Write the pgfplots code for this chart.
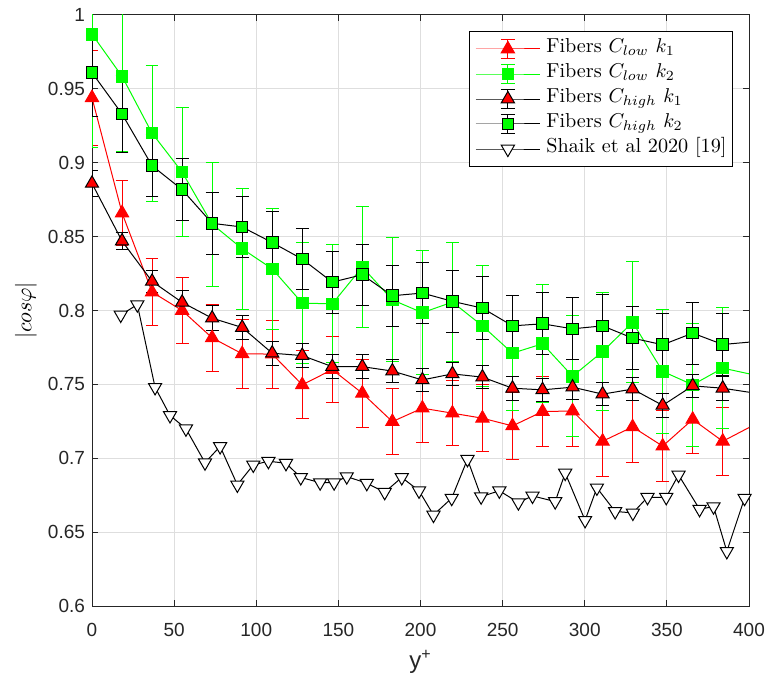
\documentclass[border=0pt]{standalone}
\usepackage{pgfplots}
\pgfplotsset{compat=1.18}
\usepackage{pgfplotstable}
\usepackage{fontspec}
\newfontfamily\arialfont{Liberation Sans}
\definecolor{axisgray}{rgb}{0.15,0.15,0.15}
\definecolor{gridgray}{rgb}{0.87,0.87,0.87}
\definecolor{mgreen}{rgb}{0,1,0}

\pgfplotstableread{
x y e
0 0.944 0.032
18.29 0.866 0.022
36.57 0.8125 0.0225
54.86 0.800 0.022
73.14 0.7815 0.0225
91.43 0.7707 0.0235
109.71 0.7705 0.023
128 0.7497 0.023
146.29 0.760 0.0223
164.57 0.744 0.023
182.86 0.7248 0.0223
201.14 0.7339 0.023
219.43 0.7305 0.022
237.71 0.7271 0.0226
256 0.7219 0.0226
274.29 0.7316 0.0237
292.57 0.732 0.024
310.86 0.7115 0.024
329.14 0.7212 0.024
347.43 0.7082 0.024
365.71 0.7263 0.023
384 0.7115 0.023
}\redlow

\pgfplotstableread{
x y e
0 0.987 0.077
18.29 0.9585 0.051
36.57 0.920 0.046
54.86 0.8937 0.0435
73.14 0.8585 0.042
91.43 0.8418 0.041
109.71 0.8282 0.041
128 0.805 0.041
146.29 0.8045 0.040
164.57 0.8294 0.041
182.86 0.8072 0.042
201.14 0.7985 0.042
219.43 0.8057 0.040
237.71 0.7896 0.041
256 0.7711 0.039
274.29 0.7775 0.040
292.57 0.7555 0.041
310.86 0.7722 0.040
329.14 0.792 0.041
347.43 0.7588 0.042
365.71 0.7497 0.0415
384 0.761 0.041
}\greenlow

\pgfplotstableread{
x y e
0 0.886 0.009
18.29 0.847 0.006
36.57 0.8197 0.0075
54.86 0.8055 0.008
73.14 0.7948 0.0085
91.43 0.7885 0.008
109.71 0.7711 0.008
128 0.7695 0.008
146.29 0.762 0.008
164.57 0.762 0.008
182.86 0.759 0.008
201.14 0.753 0.008
219.43 0.7571 0.008
237.71 0.7549 0.008
256 0.7474 0.008
274.29 0.7463 0.008
292.57 0.7481 0.008
310.86 0.7434 0.008
329.14 0.7468 0.008
347.43 0.7358 0.008
365.71 0.749 0.008
384 0.7474 0.008
}\redhigh

\pgfplotstableread{
x y e
0 0.961 0.0295
18.29 0.933 0.026
36.57 0.898 0.021
54.86 0.8818 0.021
73.14 0.859 0.021
91.43 0.8565 0.0205
109.71 0.846 0.021
128 0.8348 0.0207
146.29 0.8192 0.021
164.57 0.8242 0.0205
182.86 0.810 0.0205
201.14 0.8118 0.0207
219.43 0.8062 0.021
237.71 0.8016 0.0215
256 0.7896 0.0206
274.29 0.791 0.021
292.57 0.7876 0.021
310.86 0.7896 0.021
329.14 0.7813 0.0215
347.43 0.7768 0.021
365.71 0.7847 0.021
384 0.777 0.021
}\greenhigh

\pgfplotstableread{
x y
17.5 0.797
27.6 0.804
38.4 0.748
47.5 0.729
57.2 0.720
68.8 0.697
78 0.708
88.5 0.682
98.2 0.6955
107.4 0.698
118.1 0.6966
127.1 0.687
138.9 0.6835
147.4 0.6835
155.1 0.6876
167.3 0.6831
178.2 0.677
188.6 0.687
199.1 0.678
207.9 0.6616
219 0.673
228.6 0.6993
236.9 0.674
248 0.678
259.6 0.670
268.2 0.6745
282 0.6707
288.1 0.690
300.2 0.658
307.4 0.680
318.5 0.664
329.3 0.663
338.2 0.6736
349.6 0.6736
357.1 0.6887
369.9 0.6655
378.4 0.6673
386.5 0.637
397.3 0.673
}\shaik

\pgfplotsset{
  errleg/.style={legend image code/.code={
    \draw[#1, line width=0.5pt, solid] (16pt,-4.7pt) -- (16pt,4.7pt) (12.5pt,-4.7pt) -- (19.5pt,-4.7pt) (12.5pt,4.7pt) -- (19.5pt,4.7pt);
    \draw[mark repeat=2,mark phase=2,##1] plot coordinates {(0pt,0pt) (16pt,0pt) (32pt,0pt)};
  }},
  plainleg/.style={legend image code/.code={
    \draw[mark repeat=2,mark phase=2,##1] plot coordinates {(0pt,0pt) (16pt,0pt) (32pt,0pt)};
  }},
}

\begin{document}
\begin{tikzpicture}
\begin{axis}[
  scale only axis,
  width=328.5pt, height=295.5pt,
  xmin=0, xmax=400, ymin=0.6, ymax=1,
  xtick={0,50,100,150,200,250,300,350,400},
  ytick={0.6,0.65,0.7,0.75,0.8,0.85,0.9,0.95,1},
  yticklabels={0.6,0.65,0.7,0.75,0.8,0.85,0.9,0.95,1},
  grid=major,
  major grid style={color=gridgray, line width=0.5pt},
  tick align=inside,
  xtick pos=both, ytick pos=both,
  major tick length=3pt,
  axis line style={axisgray, line width=0.5pt},
  tick style={axisgray, line width=0.5pt},
  ticklabel style={font=\arialfont\fontsize{9.5}{11}\selectfont, text=axisgray},
  /pgf/number format/assume math mode=true,
  xticklabel style={yshift=-5pt},
  xlabel={\arialfont\fontsize{12}{14}\selectfont y\textsuperscript{+}},
  xlabel style={at={(axis description cs:0.5,-0.0948)}, anchor=center, text=axisgray},
  ylabel={$|cos\varphi|$},
  ylabel style={at={(axis description cs:-0.1005,0.5)}, anchor=center, font=\fontsize{11}{13}\selectfont},
  legend cell align=left,
  legend style={at={(axis description cs:1,1)}, anchor=north east, xshift=-8pt, yshift=-8pt,
    draw=black, line width=0.5pt, fill=white, inner xsep=3pt, inner ysep=2.5pt,
    font=\fontsize{10.1}{12}\selectfont,
    nodes={inner sep=0pt, text height=8pt, text depth=4.5pt},
    /tikz/every odd column/.append style={column sep=3pt}},
  clip=true,
]
% C_low k1
\addplot[red, line width=0.5pt, mark=triangle*, mark size=3.8pt,
  mark options={fill=red, draw=red, solid}, errleg={red},
  error bars/.cd, y dir=both, y explicit,
  error bar style={red, line width=0.5pt},
  error mark options={red, rotate=90, mark size=3.2pt, line width=0.5pt}]
  table[x=x, y=y, y error=e] {\redlow};
\addlegendentry{Fibers $C_{low}$ $k_1$}
% C_low k2
\addplot[mgreen, line width=0.5pt, mark=square*, mark size=2.9pt,
  mark options={fill=mgreen, draw=mgreen, solid}, errleg={mgreen},
  error bars/.cd, y dir=both, y explicit,
  error bar style={mgreen, line width=0.5pt},
  error mark options={mgreen, rotate=90, mark size=3.2pt, line width=0.5pt}]
  table[x=x, y=y, y error=e] {\greenlow};
\addlegendentry{Fibers $C_{low}$ $k_2$}
% C_high k1
\addplot[black, line width=0.5pt, mark=triangle*, mark size=3.8pt,
  mark options={fill=red, draw=black, solid}, errleg={black},
  error bars/.cd, y dir=both, y explicit,
  error bar style={black, line width=0.5pt},
  error mark options={black, rotate=90, mark size=3.2pt, line width=0.5pt}]
  table[x=x, y=y, y error=e] {\redhigh};
\addlegendentry{Fibers $C_{high}$ $k_1$}
% C_high k2
\addplot[black, line width=0.5pt, mark=square*, mark size=2.9pt,
  mark options={fill=mgreen, draw=black, solid}, errleg={black},
  error bars/.cd, y dir=both, y explicit,
  error bar style={black, line width=0.5pt},
  error mark options={black, rotate=90, mark size=3.2pt, line width=0.5pt}]
  table[x=x, y=y, y error=e] {\greenhigh};
\addlegendentry{Fibers $C_{high}$ $k_2$}
% Shaik
\addplot[black, line width=0.5pt, mark=triangle*, mark size=3.8pt,
  mark options={fill=white, draw=black, rotate=180, solid}, plainleg]
  table[x=x, y=y] {\shaik};
\addlegendentry{Shaik et al 2020 [19]}
% line continuations past the last marker
\addplot[red, line width=0.5pt, forget plot] coordinates {(384,0.7115) (402.29,0.7221)};
\addplot[mgreen, line width=0.5pt, forget plot] coordinates {(384,0.761) (402.29,0.7566)};
\addplot[black, line width=0.5pt, forget plot] coordinates {(384,0.7474) (402.29,0.7443)};
\addplot[black, line width=0.5pt, forget plot] coordinates {(384,0.777) (402.29,0.7788)};
\end{axis}
\pgfresetboundingbox
\path[use as bounding box] (-46pt,-36.5pt) rectangle (339pt,303pt);
\end{tikzpicture}
\end{document}
